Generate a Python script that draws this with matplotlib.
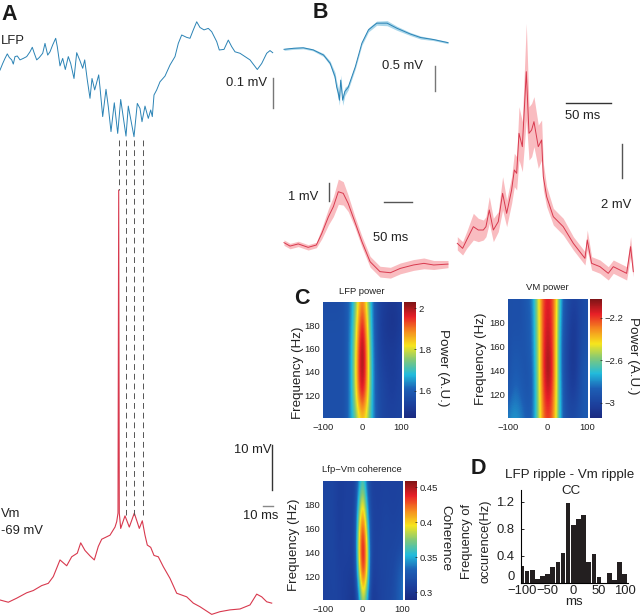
import matplotlib
matplotlib.use("Agg")
import matplotlib.pyplot as plt
from matplotlib.colors import LinearSegmentedColormap

plt.rcParams['font.family'] = ['Liberation Sans', 'DejaVu Sans']

W, H = 640, 616

# --- traces, panel A
lfp_t = [0, 2.7, 5, 7.3, 9.3, 11.7, 13.3, 15, 17.3, 20, 23.3, 26.7, 30, 32.3, 34.3, 36.7, 39.3, 42.7, 45, 47.7,
         50, 52.7, 55.7, 57.3, 60, 62.7, 65.3, 68.3, 70.7, 74, 76.7, 80, 82.7, 84.7, 87.3, 90, 92, 94.7, 98.7, 100,
         102.7, 106, 108.3, 111, 114.3, 117.7, 120.7, 126, 128.3, 134, 137.3, 140, 142, 145, 148.3, 150.7, 152.3, 154, 156.7, 160,
         165, 170, 175, 178.3, 181.7, 186.7, 190, 193.3, 196.7, 200, 204, 208.3, 211.7, 216.7, 219.3, 224, 228.3, 231.7, 235, 240,
         245, 250, 257.3, 261.7, 266.7, 270, 272.7]
lfp_mv = [.222, .244, .261, .276, .264, .256, .242, .267, .269, .256, .261, .267, .283, .298, .278, .256, .264, .278, .311, .272,
          .283, .306, .328, .300, .236, .261, .224, .267, .244, .194, .280, .253, .228, .256, .189, .128, .194, .156, .206, .164,
          .067, .158, .100, .017, .113, .011, .124, .002, .102, 0, .111, .094, .050, .102, .061, .089, .067, .139, .156, .183,
          .202, .239, .267, .311, .339, .331, .328, .356, .383, .364, .356, .361, .350, .317, .289, .291, .322, .300, .283, .278,
          .267, .256, .224, .244, .278, .287, .280]
vm_t = [0, 8.3, 16.7, 26.7, 33.3, 41.7, 48.3, 53.3, 60, 66.7, 71.7, 77.3, 80.7, 85, 90, 94.3, 98.3, 101.7, 110, 115,
        116.7, 118, 118.7, 119.3, 120.7, 125, 129.3, 134.3, 139.3, 142.3, 145, 147.3, 150.7, 154, 158.3, 163.3, 170, 176.7, 181.7, 186.7,
        193.3, 200, 211.7, 220, 230, 240, 250, 256.7, 261.7, 266.7, 271.7]
vm_mv = [-69, -69.5, -68.6, -67.4, -66.9, -65.8, -65.3, -63.8, -60.1, -61.4, -59.4, -58.6, -56.3, -58, -59.2, -60.1, -57.1, -55.5, -54.6, -52.8,
         -51.6, -49.7, 22.1, -49.7, -53.1, -50.3, -52.8, -49.7, -53.1, -51.4, -54.6, -56.8, -57.3, -59.1, -59.4, -61.6, -64.2, -67.5, -67.9, -68.3,
         -69.7, -70.5, -72.2, -71.6, -71.2, -71, -70.1, -67.7, -68.3, -69.4, -69.7]

# --- averaged traces, panel B
avg_lfp_t = [-101, -84, -66, -48, -29, -17, -8, -5, -2, 0, 2.4, 6, 10, 16, 29, 41, 53, 68, 87, 105, 129, 148, 172, 198]
avg_lfp_mv = [0, .02, .03, -.01, -.11, -.27, -.53, -.73, -.85, -.99, -.60, -.99, -.82, -.74, -.34, .12, .38, .51, .51, .41, .30, .23, .19, .13]
avg_lfp_sem = [.02, .02, .02, .02, .03, .04, .08, .10, .10, .10, .10, .10, .08, .05, .04, .04, .04, .04, .05, .04, .03, .03, .02, .02]

avg_vm1_t = [-99, -88, -73, -55, -40, -30, -18, -9, 0, 9, 18, 30, 43, 58, 76, 95, 113, 137, 156, 174, 200]
avg_vm1_mv = [.13, -.06, .06, -.13, 0, .65, 1.57, 2.13, 2.96, 2.87, 2.31, 1.30, .19, -.93, -1.48, -1.54, -1.30, -1.11, -1.02, -1.11, -1.06]
avg_vm1_sem = [.15, .15, .15, .15, .15, .3, .45, .55, .7, .65, .45, .3, .3, .3, .3, .3, .3, .3, .3, .25, .2]

avg_vm2_t = [-76.6, -70.7, -66.2, -58.8, -53.3, -47.7, -44.8, -41.1, -36.6, -31.1, -26.3, -21.8, -16.3, -13.3, -10.7, -8.1, -4.4, 0, 3, 5.9,
             8.5, 13.3, 17, 18.9, 22.6, 30, 41, 52.2, 65.1, 67.7, 72.5, 81.8, 91, 96.6, 104, 111.4, 115.8, 118.8]
avg_vm2_mv = [1.7, 1.4, 1.9, 2.7, 2.5, 2.5, 2.7, 3.7, 2.5, 3, 4.7, 3.5, 4.9, 6.1, 5.9, 8.3, 7.5, 12, 8.3, 8.5,
              9, 7.5, 7.9, 5.7, 4.5, 3.3, 2.7, 1.7, .8, 1.9, .5, .3, -.1, .3, .1, -.1, 1.5, 0]
avg_vm2_sem = [.4, .4, .5, .8, .7, .6, .6, .8, .7, .6, 1, .8, .8, 1, 1, 1.6, 1.5, 2.9, 1.6, 1.6,
               1.5, 1.3, 1.2, .8, .6, .5, .5, .4, .4, .6, .4, .4, .4, .4, .4, .4, .6, .3]

# --- spectrograms, panel C: rows 100..200 Hz, columns -100..100 ms every 10 ms
lfp_power = [
    [1.57, 1.57, 1.57, 1.57, 1.57, 1.57, 1.59, 1.65, 1.71, 1.79, 1.84, 1.80, 1.71, 1.63, 1.57, 1.55, 1.54, 1.54, 1.54, 1.54, 1.54],
    [1.57, 1.57, 1.57, 1.57, 1.57, 1.57, 1.59, 1.65, 1.76, 1.90, 1.98, 1.88, 1.73, 1.62, 1.57, 1.55, 1.54, 1.53, 1.53, 1.54, 1.54],
    [1.57, 1.57, 1.57, 1.57, 1.57, 1.57, 1.59, 1.65, 1.77, 1.93, 2.03, 1.91, 1.74, 1.62, 1.56, 1.54, 1.53, 1.52, 1.52, 1.53, 1.54],
    [1.57, 1.57, 1.57, 1.57, 1.57, 1.57, 1.59, 1.65, 1.76, 1.92, 2.03, 1.90, 1.73, 1.61, 1.55, 1.53, 1.52, 1.52, 1.52, 1.53, 1.54],
    [1.57, 1.57, 1.57, 1.57, 1.57, 1.57, 1.59, 1.64, 1.74, 1.88, 1.98, 1.86, 1.71, 1.60, 1.55, 1.52, 1.51, 1.50, 1.50, 1.51, 1.53],
    [1.56, 1.56, 1.56, 1.56, 1.56, 1.57, 1.59, 1.63, 1.71, 1.83, 1.90, 1.81, 1.69, 1.60, 1.55, 1.53, 1.52, 1.51, 1.51, 1.52, 1.53],
]
vm_power = [
    [-2.82, -2.78, -2.78, -2.80, -2.84, -2.88, -2.86, -2.70, -2.46, -2.26, -2.20, -2.26, -2.44, -2.72, -2.90, -2.95, -2.96, -2.95, -2.92, -2.90, -2.88],
    [-2.90, -2.86, -2.84, -2.86, -2.90, -2.92, -2.88, -2.70, -2.43, -2.20, -2.12, -2.20, -2.42, -2.72, -2.92, -2.98, -3.02, -3.00, -2.95, -2.90, -2.88],
    [-2.95, -2.90, -2.88, -2.90, -2.92, -2.92, -2.87, -2.68, -2.41, -2.16, -2.04, -2.15, -2.41, -2.74, -2.94, -3.00, -3.06, -3.04, -2.96, -2.90, -2.90],
    [-2.95, -2.92, -2.92, -2.92, -2.92, -2.90, -2.85, -2.66, -2.41, -2.17, -2.08, -2.17, -2.41, -2.74, -2.94, -3.00, -3.06, -3.04, -2.98, -2.94, -2.92],
    [-2.95, -2.94, -2.94, -2.94, -2.92, -2.90, -2.84, -2.64, -2.40, -2.18, -2.12, -2.18, -2.40, -2.72, -2.92, -2.98, -3.04, -3.04, -2.98, -2.96, -2.94],
    [-2.95, -2.94, -2.94, -2.94, -2.92, -2.88, -2.82, -2.62, -2.38, -2.20, -2.14, -2.20, -2.38, -2.68, -2.90, -2.96, -3.00, -3.00, -2.98, -2.96, -2.94],
]
coherence = [
    [.309, .310, .311, .312, .310, .308, .306, .302, .300, .335, .385, .350, .305, .306, .310, .312, .314, .316, .320, .330, .335],
    [.310, .311, .312, .312, .310, .308, .307, .305, .308, .375, .440, .395, .312, .308, .311, .312, .313, .314, .318, .328, .340],
    [.311, .312, .313, .312, .308, .309, .310, .308, .314, .400, .458, .405, .315, .310, .312, .313, .313, .313, .314, .316, .318],
    [.312, .313, .313, .311, .307, .309, .310, .308, .314, .390, .442, .380, .314, .310, .310, .312, .313, .312, .312, .313, .314],
    [.312, .313, .313, .311, .306, .308, .310, .309, .311, .365, .405, .350, .311, .310, .309, .311, .311, .310, .310, .311, .312],
    [.312, .312, .312, .311, .307, .308, .309, .309, .310, .340, .365, .330, .310, .309, .309, .310, .310, .310, .310, .310, .310],
]

# --- histogram, panel D
cc_lags = [-100, -90, -80, -70, -60, -50, -40, -30, -20, -10, 0, 10, 20, 30, 40, 50, 60, 70, 80, 90, 100]
cc_rate = [.24, .17, .19, .05, .10, .13, .23, .31, .44, 1.18, .85, .95, 1.01, .30, .43, .08, 0, .15, .04, .30, .13]

BLUE = '#2b83b5'
BLUE_BAND = '#a9d6ea'
RED = '#d8394e'
RED_BAND = '#f9bcc0'

heat = LinearSegmentedColormap.from_list('heat', [
    (0.00, '#1b2a80'), (0.11, '#1c3f9c'), (0.25, '#1d5fb5'), (0.375, '#21bbdc'),
    (0.50, '#7fc87a'), (0.625, '#f6e51d'), (0.75, '#f58a1f'), (0.875, '#e81f27'), (1.00, '#7d1416')])


def px_axes(left, right, top, bottom, **kw):
    return fig.add_axes([left / W, 1 - bottom / H, (right - left) / W, (bottom - top) / H], **kw)


def trace_axes(left, right, top, bottom, xlim, ylim):
    ax = px_axes(left, right, top, bottom)
    ax.set_xlim(xlim)
    ax.set_ylim(ylim)
    ax.axis('off')
    ax.patch.set_alpha(0)
    return ax


def band_trace(ax, t, v, sem, col, band):
    low = [a - b for a, b in zip(v, sem)]
    high = [a + b for a, b in zip(v, sem)]
    ax.fill_between(t, low, high, color=band, lw=0, clip_on=False)
    ax.plot(t, v, color=col, lw=0.7, clip_on=False)


def heatmap(box, cbox, values, vmin, vmax, cticks, clabels):
    ax = px_axes(*box)
    im = ax.imshow(values, origin='lower', aspect='auto', cmap=heat, vmin=vmin, vmax=vmax,
                   extent=[-105, 105, 90, 210], interpolation='bicubic', interpolation_stage='data')
    ax.set_xlim(-100, 100)
    ax.set_ylim(100, 200)
    ax.set_xticks([-100, 0, 100], ['\u2212100', '0', '100'])
    ax.set_yticks([120, 140, 160, 180])
    ax.tick_params(length=0, labelsize=6.8, colors='#222222')
    ax.tick_params(axis='x', pad=3.5)
    ax.tick_params(axis='y', pad=2)
    for s in ax.spines.values():
        s.set_visible(False)
    cax = px_axes(*cbox)
    cb = fig.colorbar(im, cax=cax)
    cb.set_ticks(cticks, labels=clabels)
    cb.ax.tick_params(direction='in', length=1.5, width=0.5, labelsize=6.8, pad=2, colors='#222222')
    cb.outline.set_visible(False)
    return ax


fig = plt.figure(figsize=(W / 100, H / 100), dpi=100)

# overlay in pixels for scale bars and labels
ov = fig.add_axes([0, 0, 1, 1], zorder=5)
ov.set_xlim(0, W)
ov.set_ylim(H, 0)
ov.axis('off')
ov.patch.set_alpha(0)

# panel A
ax = trace_axes(0, 272, 0, 140, (0, 272), (-.011, .4556))
ax.plot(lfp_t, lfp_mv, color=BLUE, lw=0.7, clip_on=False)

ax = trace_axes(0, 272, 180, 616, (0, 272), (-72.56, 24.33))
ax.plot(vm_t, vm_mv, color=RED, lw=0.8, clip_on=False)

for x, top, bottom in [(118.7, 140, 190), (126.3, 140, 515), (134.3, 140, 515), (142.7, 140, 515)]:
    ov.plot([x, x], [top, bottom], color='#555555', lw=0.7, dashes=(6, 4))

# panel B
ax = trace_axes(284, 448, 15, 115, (-101, 198), (-1.279, .669))
band_trace(ax, avg_lfp_t, avg_lfp_mv, avg_lfp_sem, BLUE, BLUE_BAND)

ax = trace_axes(284, 448, 170, 285, (-99, 200), (-2.222, 4.167))
band_trace(ax, avg_vm1_t, avg_vm1_mv, avg_vm1_sem, RED, RED_BAND)

ax = trace_axes(457.3, 633.3, 20, 285, (-76.6, 118.8), (-.8, 15.1))
band_trace(ax, avg_vm2_t, avg_vm2_mv, avg_vm2_sem, RED, RED_BAND)

# scale bars
for xs, ys, c in [((273.3, 273.3), (78, 108), '#777777'),
                  ((272, 272), (445, 490), '#333333'),
                  ((262.7, 272.7), (506, 506), '#888888'),
                  ((435, 435), (66, 91), '#777777'),
                  ((566, 611), (103, 103), '#333333'),
                  ((622, 622), (144, 178), '#555555'),
                  ((329.3, 329.3), (182.7, 200.7), '#555555'),
                  ((384.3, 411.7), (202, 202), '#555555')]:
    ov.plot(xs, ys, color=c, lw=1)

TXT = '#222222'
for s, x, y, ha in [('LFP', 1, 41, 'left'), ('Vm', 1, 514, 'left'), ('-69 mV', 1, 531, 'left'),
                    ('0.1 mV', 267.5, 83, 'right'), ('10 mV', 271, 450, 'right'), ('10 ms', 261, 516, 'center'),
                    ('0.5 mV', 382, 66, 'left'), ('50 ms', 565, 116, 'left'), ('2 mV', 601, 205, 'left'),
                    ('1 mV', 288, 197, 'left'), ('50 ms', 373, 238, 'left')]:
    ov.text(x, y, s, ha=ha, va='center', fontsize=9.4, color=TXT)

for s, x, y in [('A', 9, 14), ('B', 320, 13), ('C', 302, 298), ('D', 478, 468)]:
    ov.text(x, y, s, ha='center', va='center', fontsize=15.5, fontweight='bold', color='#1a1a1a')

# panel C
heatmap((322.7, 401.3, 302, 418.3), (404, 415.7, 302, 418.3), lfp_power, 1.466, 2.03,
        [1.6, 1.8, 2], ['1.6', '1.8', '2'])
heatmap((507.7, 587, 299, 418.3), (590, 601.7, 299, 418.3), vm_power, -3.147, -2.024,
        [-3, -2.6, -2.2], ['\u22123', '\u22122.6', '\u22122.2'])
heatmap((322.7, 402, 480.7, 600), (405, 416.7, 480.7, 600), coherence, .289, .4595,
        [.3, .35, .4, .45], ['0.3', '0.35', '0.4', '0.45'])

for s, x, y in [('LFP power', 361.7, 291), ('VM power', 547, 288), ('Lfp\u2212Vm coherence', 362, 470)]:
    ov.text(x, y, s, ha='center', va='center', fontsize=6.8, color=TXT)
for x, y in [(298, 373), (481, 359), (294, 545)]:
    ov.text(x, y, 'Frequency (Hz)', ha='center', va='center', rotation=90, fontsize=9.6, color=TXT)
for s, x, y in [('Power (A.U.)', 443, 368), ('Power (A.U.)', 633, 356), ('Coherence', 445.7, 538)]:
    ov.text(x, y, s, ha='center', va='center', rotation=270, fontsize=9.7, color=TXT)

# panel D
ax = px_axes(520.7, 628, 490, 582.7)
ax.bar(cc_lags, cc_rate, width=9, color='#231f20')
ax.set_xlim(-102.5, 106.6)
ax.set_ylim(0, 1.373)
ax.set_xticks([-100, -50, 0, 50, 100], ['\u2212100', '\u221250', '0', '50', '100'])
ax.set_yticks([0, .4, .8, 1.2], ['0', '0.4', '0.8', '1.2'])
ax.tick_params(length=2, width=0.7, labelsize=9.4, colors=TXT, direction='in')
ax.tick_params(axis='x', pad=2)
ax.tick_params(axis='y', pad=4.5)
ax.get_yticklabels()[0].set_va('bottom')
ax.spines[['top', 'right']].set_visible(False)
ax.patch.set_alpha(0)

ov.text(570, 475, 'LFP ripple - Vm ripple', ha='center', va='center', fontsize=9.6, color=TXT)
ov.text(571, 490.7, 'CC', ha='center', va='center', fontsize=9.6, color=TXT)
ov.text(467, 541.7, 'Frequency of', ha='center', va='center', rotation=90, fontsize=9.3, color=TXT)
ov.text(485, 541.7, 'occurence(Hz)', ha='center', va='center', rotation=90, fontsize=9.3, color=TXT)
ov.text(573.7, 602, 'ms', ha='center', va='center', fontsize=9.6, color=TXT)

plt.savefig('out.png', dpi=100)
